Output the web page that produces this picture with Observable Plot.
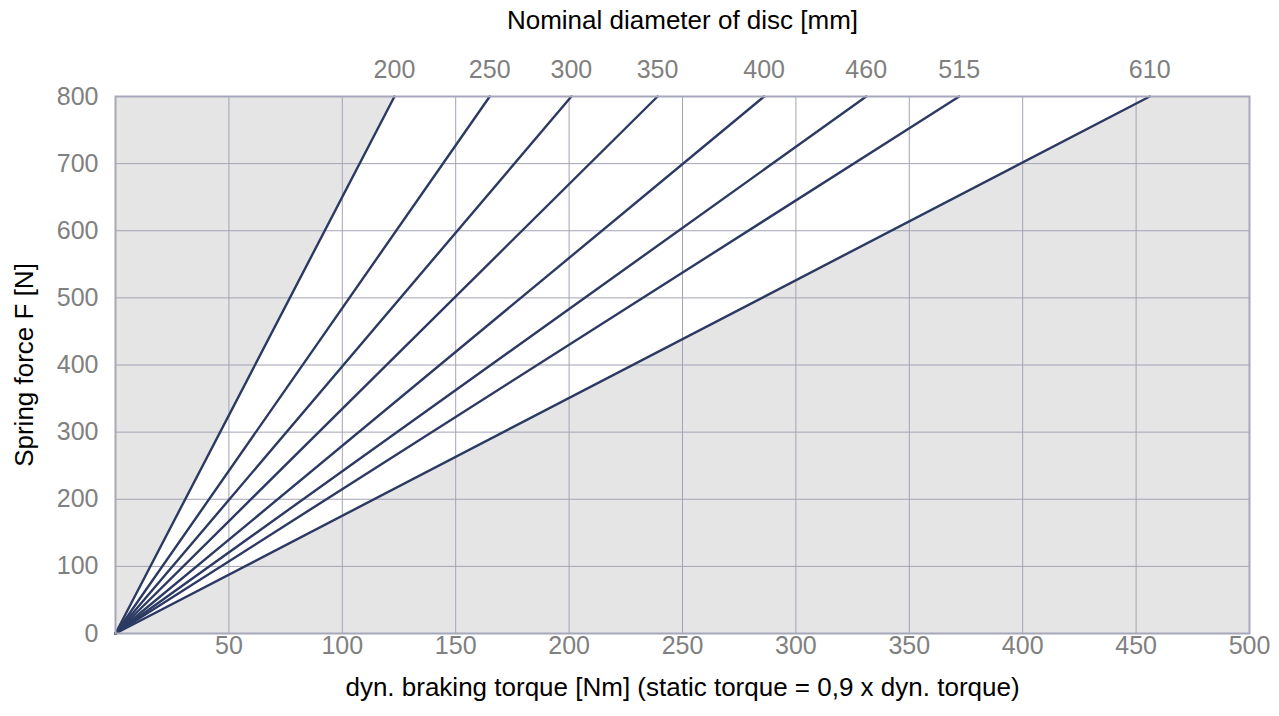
<!DOCTYPE html>
<html>
<head>
<meta charset="utf-8">
<script src="https://cdn.jsdelivr.net/npm/d3@7"></script>
<script src="https://cdn.jsdelivr.net/npm/@observablehq/plot@0.6"></script>
<style>
  html, body { margin: 0; padding: 0; background: #fff; }
  #chart svg { display: block; }
</style>
</head>
<body>
<div id="chart"></div>
<script>
// Nominal disc diameters [mm]
const diameters = [200, 250, 300, 350, 400, 460, 515, 610];
// Dyn. braking torque [Nm] reached at spring force 800 N, per diameter
const torqueAt800 = [123, 165, 201, 239, 286, 331, 372, 456];
const forceMax = 800;
const xTicks = [50, 100, 150, 200, 250, 300, 350, 400, 450, 500];
const yTicks = [0, 100, 200, 300, 400, 500, 600, 700, 800];

const lines = diameters.flatMap((d, i) => [
  {d, torque: 0, force: 0},
  {d, torque: torqueAt800[i], force: forceMax}
]);
const tops = diameters.map((d, i) => ({d, torque: torqueAt800[i], force: forceMax}));
const band = [
  {force: 0, x1: 0, x2: 0},
  {force: forceMax, x1: torqueAt800[0], x2: torqueAt800[torqueAt800.length - 1]}
];

const grid = "#a3a3b6";
const tickFill = "#808080";

const chart = Plot.plot({
  width: 1279,
  height: 716,
  marginLeft: 115,
  marginRight: 30,
  marginTop: 96,
  marginBottom: 83,
  style: {fontFamily: "'Liberation Sans', Arial, sans-serif", background: "#fff"},
  x: {domain: [0, 500], axis: null},
  y: {domain: [0, 800], axis: null},
  marks: [
    Plot.frame({fill: "#e5e5e5", stroke: "none"}),
    Plot.areaX(band, {y: "force", x1: "x1", x2: "x2", fill: "#fff"}),
    Plot.gridX(xTicks, {stroke: grid, strokeOpacity: 1, strokeWidth: 1}),
    Plot.gridY(yTicks, {stroke: grid, strokeOpacity: 1, strokeWidth: 1}),
    Plot.line(lines, {x: "torque", y: "force", z: "d", stroke: "#2c3a63", strokeWidth: 2.4}),
    Plot.frame({stroke: "#a7a7bb", strokeWidth: 2}),
    Plot.text(xTicks, {x: d => d, frameAnchor: "bottom", dy: 20, fill: tickFill, fontSize: 25}),
    Plot.text(yTicks, {y: d => d, frameAnchor: "left", textAnchor: "end", dx: -17, fill: tickFill, fontSize: 25}),
    Plot.text(tops, {x: "torque", y: "force", text: d => String(d.d), dy: -27, fill: tickFill, fontSize: 25}),
    Plot.text(["Nominal diameter of disc [mm]"], {frameAnchor: "top", dy: -86, fill: "#000", fontSize: 26}),
    Plot.text(["dyn. braking torque [Nm] (static torque = 0,9 x dyn. torque)"], {frameAnchor: "bottom", dy: 62, fill: "#000", fontSize: 26}),
    Plot.text(["Spring force F [N]"], {frameAnchor: "left", textAnchor: "middle", dx: -91, rotate: -90, fill: "#000", fontSize: 26})
  ]
});
document.getElementById("chart").appendChild(chart);
</script>
</body>
</html>
